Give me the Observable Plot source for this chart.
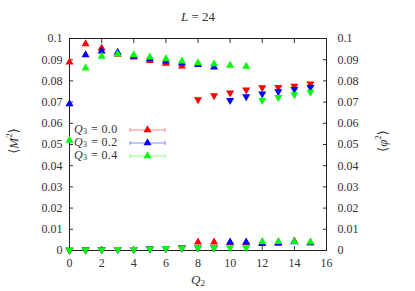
<!DOCTYPE html>
<html><head><meta charset="utf-8">
<script src="https://cdn.jsdelivr.net/npm/d3@7"></script>
<script src="https://cdn.jsdelivr.net/npm/@observablehq/plot@0.6"></script>
<style>body{margin:0;background:#fff}#chart{position:relative;width:415px;height:291px}</style>
</head><body><div id="chart"></div>
<script>
const Q2 = [0,1,2,3,4,5,6,7,8,9,10,11,12,13,14,15];
const seriesNames = ["0.0","0.2","0.4"];
const seriesColors = ["#ff0000","#0000ff","#00ff00"];
const M2_q00 = [0.0888,0.0975,0.0954,0.0925,0.0912,0.0896,0.0882,0.0870,0.0039,0.0039,0.0036,0.0036,0.0032,0.0034,0.0044,0.0036];
const M2_q02 = [0.0692,0.0923,0.0940,0.0934,0.0915,0.0904,0.0893,0.0884,0.0876,0.0865,0.0039,0.0039,0.0032,0.0036,0.0040,0.0036];
const M2_q04 = [0.0519,0.0860,0.0915,0.0926,0.0923,0.0912,0.0904,0.0893,0.0885,0.0880,0.0873,0.0868,0.0042,0.0042,0.0042,0.0039];
const phi2_q00 = [0.0002,0.0003,0.0004,0.0005,0.0006,0.0008,0.0010,0.0013,0.0712,0.0731,0.0744,0.0758,0.0769,0.0770,0.0775,0.0786];
const phi2_q02 = [0.0002,0.0003,0.0004,0.0005,0.0006,0.0008,0.0010,0.0013,0.0012,0.0012,0.0708,0.0726,0.0739,0.0750,0.0760,0.0770];
const phi2_q04 = [0.0002,0.0003,0.0004,0.0005,0.0006,0.0008,0.0010,0.0011,0.0012,0.0012,0.0012,0.0012,0.0708,0.0722,0.0736,0.0747];
const xTicks = [0,2,4,6,8,10,12,14,16];
const yTicks = [0,0.01,0.02,0.03,0.04,0.05,0.06,0.07,0.08,0.09,0.1];
const yTickLabels = ["0","0.01","0.02","0.03","0.04","0.05","0.06","0.07","0.08","0.09","0.1"];

const M2 = [M2_q00, M2_q02, M2_q04];
const PHI2 = [phi2_q00, phi2_q02, phi2_q04];
const rows = [];
seriesNames.forEach((s, i) => {
  Q2.forEach((q, j) => rows.push({q2: q, v: M2[i][j], s, kind: "M"}));
  Q2.forEach((q, j) => rows.push({q2: q, v: PHI2[i][j], s, kind: "phi"}));
});

const font = "'Liberation Serif', 'DejaVu Serif', serif";
const ylab = d => yTickLabels[yTicks.indexOf(d)];
const plot = Plot.plot({
  width: 415, height: 291,
  marginLeft: 69, marginRight: 89, marginTop: 38, marginBottom: 41,
  style: {fontFamily: font, fontSize: "12px", color: "#333", background: "#fff", overflow: "visible"},
  x: {domain: [0, 16]},
  y: {domain: [0, 0.1]},
  color: {domain: seriesNames, range: seriesColors},
  marks: [
    Plot.axisX({anchor: "bottom", ticks: xTicks, tickSize: -4, tickPadding: 12, label: null, tickFormat: d => String(d), stroke: "#333", fontFamily: font}),
    Plot.axisX({anchor: "top", ticks: xTicks, tickSize: -4, tickFormat: null, text: null, label: null, stroke: "#333"}),
    Plot.axisY({anchor: "left", ticks: yTicks, tickSize: -4, tickPadding: 11, label: null, tickFormat: ylab, stroke: "#333", fontFamily: font}),
    Plot.axisY({anchor: "right", ticks: yTicks, tickSize: -4, tickPadding: 15, label: null, tickFormat: ylab, stroke: "#333", fontFamily: font}),
    Plot.frame({stroke: "#222", strokeWidth: 1}),
    Plot.dot(rows, {x: "q2", y: "v", fill: "s", symbol: "triangle", r: 3,
      rotate: d => d.kind === "phi" ? 180 : 0})
  ]
});
document.getElementById("chart").appendChild(plot);

const svg = d3.select(plot);
svg.selectAll("text").style("font-family", font);
const txt = (x, y, rot, anchor) => {
  const t = svg.append("text").attr("x", x).attr("y", y)
    .attr("text-anchor", anchor || "middle").attr("dominant-baseline", "middle")
    .style("font-family", font).style("font-size", "13px").attr("fill", "#333");
  if (rot) t.attr("transform", `rotate(-90 ${x} ${y})`);
  return t;
};
// title
const tt = txt(198, 18);
tt.append("tspan").style("font-style", "italic").text("L");
tt.append("tspan").text(" = 24");
// x label
const xl = txt(198, 281);
xl.append("tspan").style("font-style", "italic").text("Q");
xl.append("tspan").attr("dy", 3).style("font-size", "9px").text("2");
// left label
const ll = txt(15, 141, true);
ll.append("tspan").text("⟨");
ll.append("tspan").style("font-style", "italic").text("M");
ll.append("tspan").attr("dy", -5).style("font-size", "9px").text("2");
ll.append("tspan").attr("dy", 5).text("⟩");
// right label
const rl = txt(384, 141, true);
rl.append("tspan").text("⟨");
rl.append("tspan").style("font-style", "italic").text("φ");
rl.append("tspan").attr("dy", -5).style("font-size", "9px").text("2");
rl.append("tspan").attr("dy", 5).text("⟩");

// legend
seriesNames.forEach((s, i) => {
  const y = 130 + i * 13;
  const g = svg.append("g");
  const t = txt(74, y, false, "start");
  t.style("font-size", "12px").style("letter-spacing", "0.4px");
  t.append("tspan").style("font-style", "italic").text("Q");
  t.append("tspan").attr("dy", 2).style("font-size", "8px").text("3");
  t.append("tspan").attr("dy", -2).text(" = " + s);
  const c = seriesColors[i];
  g.append("line").attr("x1", 130).attr("x2", 165).attr("y1", y).attr("y2", y).attr("stroke", c).attr("stroke-opacity", 0.45);
  g.append("line").attr("x1", 130).attr("x2", 130).attr("y1", y - 2).attr("y2", y + 2).attr("stroke", c).attr("stroke-opacity", 0.45);
  g.append("line").attr("x1", 165).attr("x2", 165).attr("y1", y - 2).attr("y2", y + 2).attr("stroke", c).attr("stroke-opacity", 0.45);
  g.append("path").attr("d", d3.symbol(d3.symbolTriangle, 3 * 3 * Math.PI)()).attr("transform", `translate(147.5,${y})`).attr("fill", c);
});
</script></body></html>
